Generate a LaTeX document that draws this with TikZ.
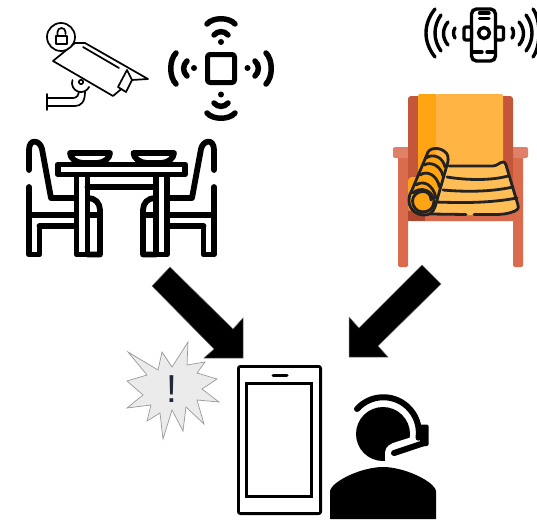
\documentclass[tikz,border=0pt]{standalone}
\usepackage{fontspec}
\setmainfont{Liberation Sans}
\tikzset{
 ink/.style={draw=black,line cap=round,line join=round},
 thick1/.style={ink,line width=1.7pt},
 table/.style={ink,line width=5.8pt},
 wave/.style={ink,line width=5.5pt},
 wave2/.style={ink,line width=3.4pt},
 mat/.style={draw=matink,line width=2.8pt,line cap=round,line join=round},
 bigarrow/.style={fill=black,draw=black!55,line width=.5pt},
}
\definecolor{woodd}{HTML}{C4573A}
\definecolor{wood}{HTML}{DB6B4D}
\definecolor{woodl}{HTML}{E08068}
\definecolor{woodk}{HTML}{AD472F}
\definecolor{oa}{HTML}{FFA412}
\definecolor{ob}{HTML}{FFB444}
\definecolor{oc}{HTML}{FFBE55}
\definecolor{matink}{HTML}{222222}
\definecolor{exc}{HTML}{1F2A36}
\begin{document}
\begin{tikzpicture}[x=1pt,y=-1pt]
\useasboundingbox (0,0) rectangle (537,519);
% camera
\draw[thick1] (47,94) -- (47,110);
\draw[thick1] (47,98) -- (73,98) .. controls (77,98) and (79,95) .. (79,90);
\draw[thick1] (47,106) -- (75,106) .. controls (81,106) and (85,102) .. (85,92);
\draw[thick1,fill=white] (72.5,80) arc[start angle=160,end angle=335,radius=9pt];
\draw[thick1] (81,82) circle (2.2pt);
\draw[thick1,fill=white] (75,43) -- (85,43) -- (148,79) -- (132,80) -- (113,96) -- (53,61) -- cycle;
\draw[thick1] (83,47) -- (119,68);
\draw[thick1,fill=white] (127,70) -- (132,80) -- (126,92) -- (118,87) -- cycle;
\draw[thick1,fill=white] (61,37) circle (14pt);
\draw[thick1] (57.5,36) -- (57.5,32) arc[start angle=180,end angle=0,radius=4pt] -- (65.5,34);
\draw[thick1] (56,36) rectangle (67,44);
% beacon
\draw[ink,line width=5pt,rounded corners=2.5pt] (207.5,54.5) rectangle (234.5,82.5);
\fill (221,42) circle (3pt) (221,94.5) circle (3pt) (194,68) circle (3pt) (247.5,68) circle (3pt);
\draw[wave] (214,35) .. controls (218,30.5) and (224,30.5) .. (228,35);
\draw[wave] (207,24) .. controls (213,17) and (229,17) .. (235,24);
\draw[wave] (214,103) .. controls (218,107.5) and (224,107.5) .. (228,103);
\draw[wave] (207,113) .. controls (213,120) and (229,120) .. (235,113);
\draw[wave] (187,61) .. controls (182.5,65) and (182.5,72) .. (187,76);
\draw[wave] (176,53) .. controls (169,60) and (169,77) .. (176,84);
\draw[wave] (255,61) .. controls (259.5,65) and (259.5,72) .. (255,76);
\draw[wave] (266,53) .. controls (273,60) and (273,77) .. (266,84);
% phone beacon top right
\draw[wave2,rounded corners=5pt] (471.5,9) rectangle (495.5,61);
\draw[wave2,rounded corners=2pt,fill=white] (464,27) rectangle (471.5,40);
\draw[wave2,rounded corners=2pt,fill=white] (495.5,27) rectangle (503.5,40);
\draw[wave2] (484,33) circle (5.5pt);
\draw[wave2] (479.5,13) -- (489,13) (479.5,18.5) -- (489,18.5);
\draw[wave2] (472,52) -- (482,52) (487,52) -- (495,52);
\draw[wave2] (455,28) .. controls (453,31) and (453,35) .. (455,38);
\draw[wave2] (448,22) .. controls (442,29) and (442,38) .. (448,45);
\draw[wave2] (441,15) .. controls (433,26) and (433,40) .. (441,51);
\draw[wave2] (435,9) .. controls (423,24) and (423,42) .. (435,57);
\draw[wave2] (512,28) .. controls (514,31) and (514,35) .. (512,38);
\draw[wave2] (519,22) .. controls (525,29) and (525,38) .. (519,45);
\draw[wave2] (526,15) .. controls (534,26) and (534,40) .. (526,51);
\draw[wave2] (533,9) .. controls (541,20) and (541,46) .. (533,57);
% chair
\fill[wood,rounded corners=1.5pt] (398,150) rectangle (408,267);
\fill[wood,rounded corners=1.5pt] (513,150) rectangle (523,267);
\fill[woodl,rounded corners=2pt] (393,147) rectangle (528,158);
\fill[woodd,rounded corners=3pt] (408,96) rectangle (513,221);
\fill[wood] (408,205) rectangle (513,221);
\fill[woodk] (408,211) rectangle (425,221);
\fill[oa,rounded corners=1.5pt] (418,94) rectangle (437,210);
\fill[ob,rounded corners=1.5pt] (436,94) rectangle (503,210);
\fill[oa,rounded corners=4pt] (408,177) rectangle (425,211);
\fill[oc] (440,166) -- (493,166) -- (504,163) -- (518,207) -- (517,210) -- (503,215) -- (430,215) -- cycle;
\draw[mat] (449,166) -- (493,166) .. controls (497,166) and (500,162) .. (503,162) .. controls (505,162) and (505,163) .. (506,165) -- (518,205) .. controls (519,209) and (517,210) .. (515,211) .. controls (510,213) and (505,214.5) .. (495,214.5) -- (474,214.5);
\draw[mat] (466,214.5) -- (430,214);
\draw[mat] (447,177) .. controls (465,180) and (490,181) .. (508,176);
\draw[mat] (443,190) .. controls (465,192) and (490,192) .. (513,187);
\draw[mat] (435,202) .. controls (465,203) and (490,203) .. (517,198);
% roll
\fill[oa] (428,152) -- (412,190) -- (427,214) -- (435,207) -- (447,165) -- cycle;
\draw[mat] (428,152) .. controls (431,147) and (442,147) .. (447,154) .. controls (449,158) and (448,162) .. (447,165) -- (435,207) .. controls (433,213) and (429,215) .. (424,215) .. controls (416,215) and (409,209) .. (409,201) .. controls (409,196) and (410,193) .. (412,190) -- cycle;
\draw[mat] (426,158) .. controls (433,153) and (443,157) .. (445,167);
\draw[mat] (424,165) .. controls (431,161) and (441,166) .. (443,176);
\draw[mat] (420,175) .. controls (427,170) and (437,175) .. (439.5,187);
\draw[mat] (416,185) .. controls (423,180) and (433,184) .. (436,198);
\draw[mat] (413,193) .. controls (420,186) and (433,190) .. (434,201) .. controls (434,208) and (429,212) .. (423,212);
\draw[mat] (423,212) .. controls (416,212) and (412.5,206) .. (412.5,201) .. controls (412.5,195) and (418,191.5) .. (423,191.5) .. controls (428,191.5) and (431,195) .. (431,200);
% table
\draw[table] (58,164.5) rectangle (185,174.5);
\draw[table] (70,153) -- (110,153) .. controls (110,158) and (104,163) .. (97,163) -- (83,163) .. controls (76,163) and (70,158) .. (70,153) -- cycle;
\draw[table] (133.5,153) -- (174,153) .. controls (174,158) and (168,163) .. (161,163) -- (147,163) .. controls (140,163) and (133.5,158) .. (133.5,153) -- cycle;
\draw[table] (76.5,176) -- (76.5,254.5) -- (87.5,254.5) -- (87.5,176);
\draw[table] (167,176) -- (167,254.5) -- (156,254.5) -- (156,176);
\draw[table] (87.5,187) -- (156,187);
\draw[table] (29,187) -- (29,254.5) -- (39.5,254.5) -- (39.5,226) (29,215) -- (76,215) (39.5,226) -- (76,226);
\draw[table] (29,170) -- (29,150) .. controls (29,138) and (40,140) .. (42,149) -- (51,198) -- (76,198);
\draw[table] (88,198) .. controls (95,198) and (100,203) .. (100,210) -- (100,254.5) -- (87.5,254.5) (88,215) -- (100,215);
\draw[table] (214,187) -- (214,254.5) -- (203.5,254.5) -- (203.5,226) (214,215) -- (167,215) (203.5,226) -- (167,226);
\draw[table] (214,170) -- (214,150) .. controls (214,138) and (203,140) .. (201,149) -- (192,198) -- (167,198);
\draw[table] (155,198) .. controls (148,198) and (143,203) .. (143,210) -- (143,254.5) -- (156,254.5) (155,215) -- (143,215);
% arrows
\draw[bigarrow] (170,267) -- (233,329) -- (243,318) -- (243,358) -- (204,358) -- (214,349) -- (152,286) -- cycle;
\draw[bigarrow] (422,265) -- (359,328) -- (349,317) -- (349,357) -- (388,357) -- (378,346) -- (441,284) -- cycle;
% burst
\draw[draw=black!40,fill=black!8,line width=.7pt] (188,342) -- (187,365) -- (205,362) -- (197,373) -- (217,379) -- (202,389) -- (219,402) -- (197,400) -- (204,424) -- (186,407) -- (183,431) -- (172,410) -- (163,439) -- (160,413) -- (147,421) -- (151,405) -- (127,408) -- (143,395) -- (127,381) -- (147,375) -- (128,352) -- (158,370) -- (162,352) -- (172,367) -- cycle;
\node[text=exc,font=\fontsize{39}{39}\selectfont,inner sep=0pt] (ex) at (172,389) {!};
% phone
\draw[ink,line width=2.8pt,rounded corners=2pt] (238.4,366.4) rectangle (320.6,513.6);
\draw[line width=3pt] (246.5,383.5) rectangle (311.5,496.5);
\draw[ink,line width=3pt] (273,375) -- (287,375);
% agent
\fill (383,434) circle (27pt);
\fill[white] (385,466) -- (385,452) .. controls (386,446) and (390,444) .. (396,442) -- (412,437) -- (414,466) -- cycle;
\fill (330,519) -- (330,491) .. controls (332,481) and (362,467) .. (383,467) .. controls (404,467) and (434,481) .. (436,491) -- (436,519) -- cycle;
\draw[ink,line width=6pt] (357,409) arc[start angle=138,end angle=-8,radius=35.5pt];
\fill[rounded corners=1.5pt] (420,424.5) rectangle (428.5,446);
\draw[ink,line width=6pt] (394,453) -- (424,443);
\end{tikzpicture}
\end{document}
